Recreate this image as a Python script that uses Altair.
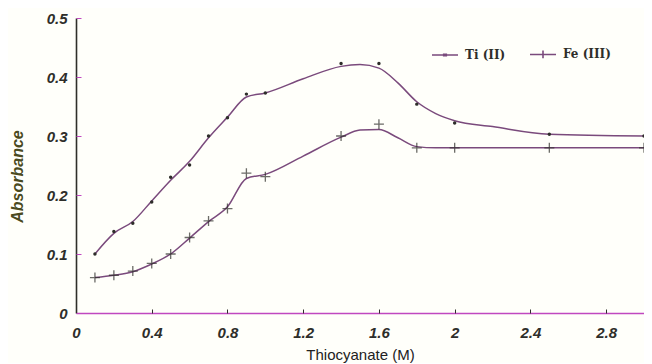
import altair as alt
import pandas as pd

# Measured data points
ti_x = [0.1, 0.2, 0.3, 0.4, 0.5, 0.6, 0.7, 0.8, 0.9, 1.0, 1.4, 1.6, 1.8, 2.0, 2.5, 3.0]
ti_y = [0.10, 0.138, 0.152, 0.188, 0.23, 0.251, 0.30, 0.331, 0.371, 0.373, 0.423, 0.423, 0.354, 0.322, 0.303, 0.30]
fe_x = [0.1, 0.2, 0.3, 0.4, 0.5, 0.6, 0.7, 0.8, 0.9, 1.0, 1.4, 1.6, 1.8, 2.0, 2.5, 3.0]
fe_y = [0.06, 0.064, 0.071, 0.084, 0.10, 0.128, 0.156, 0.177, 0.237, 0.231, 0.30, 0.32, 0.28, 0.28, 0.28, 0.28]

# Smoothed fitted curves
ti_cx = [0.1, 0.2, 0.3, 0.4, 0.5, 0.6, 0.7, 0.8, 0.9, 1.0, 1.2, 1.4, 1.5, 1.6, 1.7, 1.8, 1.9, 2.0, 2.2, 2.5, 3.0]
ti_cy = [0.10, 0.135, 0.155, 0.19, 0.225, 0.257, 0.297, 0.332, 0.366, 0.373, 0.397, 0.418, 0.421, 0.415, 0.39, 0.358, 0.338, 0.326, 0.316, 0.303, 0.30]
fe_cx = [0.1, 0.2, 0.3, 0.4, 0.5, 0.6, 0.7, 0.8, 0.9, 1.0, 1.2, 1.4, 1.5, 1.6, 1.7, 1.8, 1.9, 3.0]
fe_cy = [0.06, 0.064, 0.07, 0.083, 0.10, 0.127, 0.155, 0.18, 0.228, 0.235, 0.266, 0.298, 0.31, 0.311, 0.297, 0.282, 0.28, 0.28]

series = ["Ti (II)", "Fe (III)"]
x_ticks = [0, 0.4, 0.8, 1.2, 1.6, 2, 2.4, 2.8]
y_ticks = [0, 0.1, 0.2, 0.3, 0.4, 0.5]

pts = pd.DataFrame({
    "x": ti_x + fe_x,
    "y": ti_y + fe_y,
    "s": [series[0]] * len(ti_x) + [series[1]] * len(fe_x),
})
curve = pd.DataFrame({
    "x": ti_cx + fe_cx,
    "y": ti_cy + fe_cy,
    "s": [series[0]] * len(ti_cx) + [series[1]] * len(fe_cx),
})

LINE = "#7a4a7c"
INK = "#2e2e2a"
W, H = 568, 295

xs = alt.Scale(domain=[0, 3.0], nice=False, zero=False)
ys = alt.Scale(domain=[0, 0.5], nice=False)

lbl = dict(labelFont="Liberation Sans", labelFontSize=15, labelFontStyle="italic",
           labelFontWeight="bold", labelColor=INK, format="~g")

x_main = alt.X("x:Q", scale=xs, axis=alt.Axis(
    values=x_ticks, title="Thiocyanate (M)", titleFont="Liberation Sans",
    titleFontSize=15, titleFontWeight="normal", titleColor="#222222", titlePadding=7,
    ticks=False, labelPadding=12, grid=False, domainColor="#c048c0", domainWidth=1.6,
    labelFlush=False, **lbl))
y_main = alt.Y("y:Q", scale=ys, axis=alt.Axis(
    values=y_ticks, title="Absorbance", titleFont="Liberation Sans", titleFontSize=16,
    titleFontStyle="italic", titleFontWeight="bold", titleColor="#4a4a20",
    titleX=-59, titleY=158, titleAngle=-90, titleBaseline="middle", titleAlign="center",
    ticks=False, labelPadding=9, grid=False, domainColor=INK, domainWidth=1.6,
    labelFlush=False, **lbl))

lines = alt.Chart(curve).mark_line(interpolate="monotone", strokeWidth=1.5, color=LINE).encode(
    x=x_main, y=y_main, detail="s:N")

ti_pts = alt.Chart(pts).transform_filter(alt.datum.s == series[0]).mark_circle(
    size=12, color=INK, opacity=1).encode(
    x=alt.X("x:Q", scale=xs, axis=alt.Axis(orient="top", offset=-H, values=x_ticks[1:],
                                            labels=False, domain=False, ticks=True,
                                            tickSize=4, tickColor=INK, title=None, grid=False)),
    y=alt.Y("y:Q", scale=ys, axis=alt.Axis(orient="right", offset=-W, values=y_ticks,
                                            labels=False, domain=False, ticks=True,
                                            tickSize=5, tickColor="#c048c0", title=None, grid=False)))

fe_pts = alt.Chart(pts).transform_filter(alt.datum.s == series[1]).mark_point(
    shape="M-1,0L1,0M0,-1L0,1", size=100, color=INK, strokeWidth=1.3, filled=False).encode(
    x=alt.X("x:Q", scale=xs, axis=None), y=alt.Y("y:Q", scale=ys, axis=None))

legend_layer = alt.Chart(pts).mark_point(opacity=0).encode(
    x=alt.X("x:Q", scale=xs, axis=None), y=alt.Y("y:Q", scale=ys, axis=None),
    shape=alt.Shape("s:N", sort=series, scale=alt.Scale(
        domain=series,
        range=["M-1,0L1,0M-0.1,-0.06L0.1,-0.06L0.1,0.06L-0.1,0.06Z",
               "M-1,0L1,0M0,-0.3L0,0.3"]),
        legend=alt.Legend(title=None, orient="none", legendX=355, legendY=22,
                          direction="horizontal", symbolSize=676, symbolStrokeColor=LINE,
                          symbolFillColor=INK, symbolStrokeWidth=1.6, symbolOpacity=1,
                          labelFont="DejaVu Serif", labelFontSize=12,
                          labelFontWeight="bold", labelColor=INK, labelOffset=6,
                          columnPadding=20)))

chart = alt.layer(lines, ti_pts, fe_pts, legend_layer).resolve_axis(
    x="independent", y="independent").properties(
    width=W, height=H, background="#fffffa",
    autosize=alt.AutoSizeParams(type="none"),
    padding={"left": 68, "top": 10, "right": 0, "bottom": 50},
).configure_view(stroke=None)

chart.save("out.html", embed_options={"renderer": "svg", "actions": False})
